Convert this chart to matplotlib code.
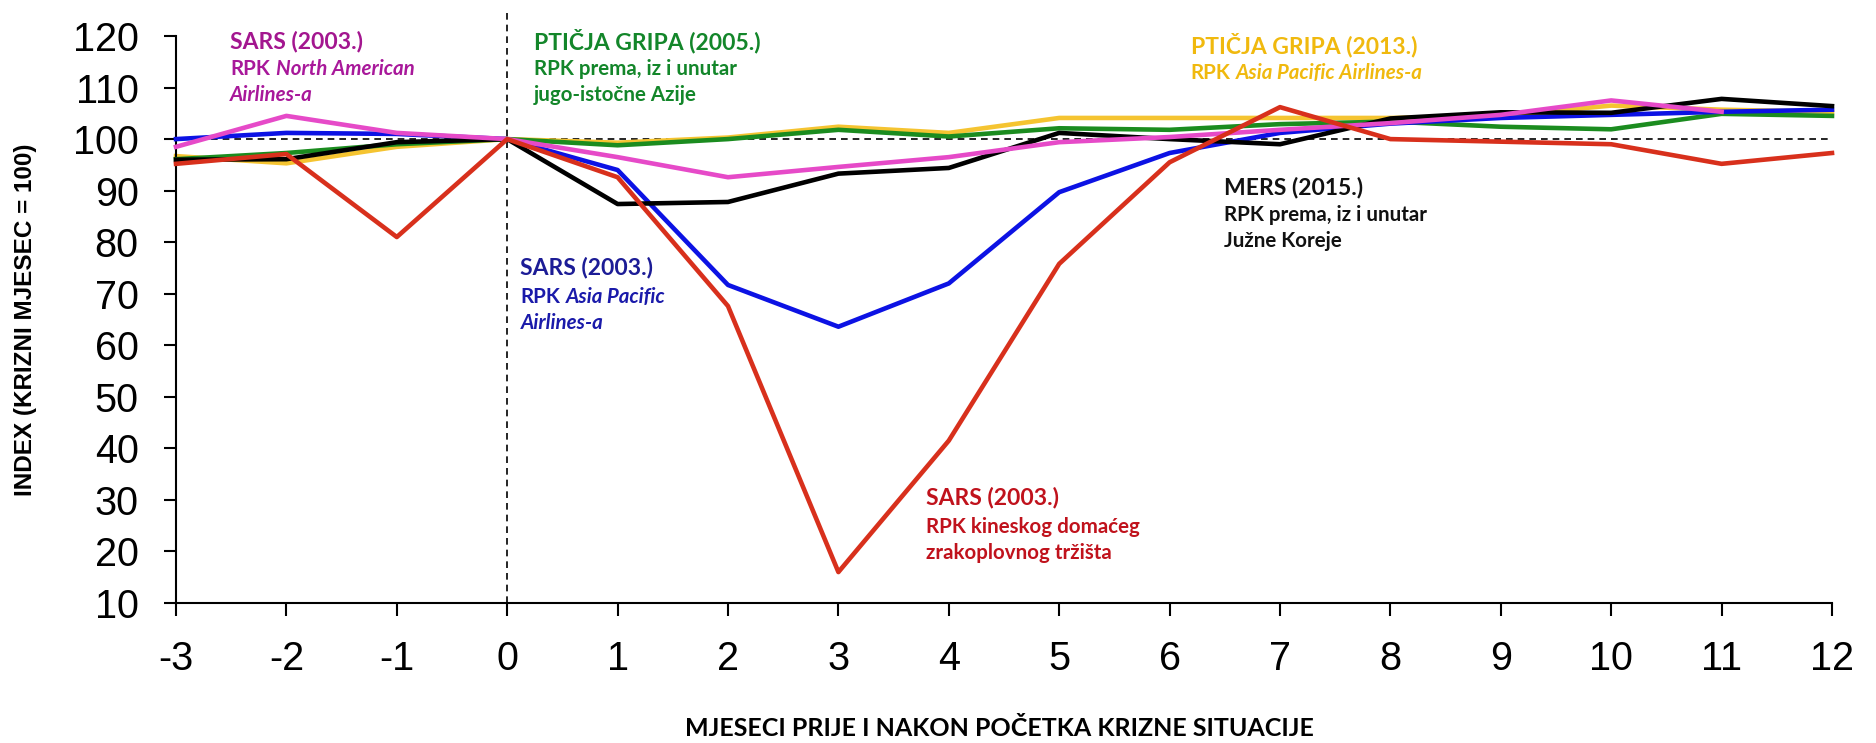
import matplotlib.pyplot as plt

plt.rcParams['font.family'] = ['Liberation Sans', 'DejaVu Sans']

months = list(range(-3, 13))

# SARS 2003 - kinesko domace trziste
red_china = [95.2, 97.1, 81, 100, 92.6, 67.6, 16, 41.5, 75.8, 95.5, 106.2, 100, 99.5, 99, 95.2, 97.3]
# SARS 2003 - Asia Pacific
blue_apac = [100, 101.2, 101, 100, 94, 71.7, 63.6, 72, 89.7, 97.3, 101.2, 103, 104.1, 104.7, 105.3, 105.7]
# MERS 2015 - Juzna Koreja
black_mers = [96, 96.1, 99.4, 100, 87.4, 87.8, 93.3, 94.4, 101.2, 100, 99, 104, 105.2, 105.1, 107.8, 106.4]
# ptcija gripa 2005 - JI Azija
green_flu05 = [96.1, 97.3, 99, 100, 98.8, 100, 101.8, 100.5, 102.1, 101.8, 102.9, 103.4, 102.4, 101.9, 104.9, 104.5]
# ptcija gripa 2013 - Asia Pacific
yellow_flu13 = [96.7, 95.3, 98.5, 100, 99.3, 100.3, 102.4, 101.2, 104.1, 104.1, 104.1, 104.1, 104.5, 106.5, 105.7, 105.3]
# SARS 2003 - North America (ends at month 11)
magenta_na = [98.5, 104.5, 101.2, 100, 96.5, 92.6, 94.6, 96.5, 99.4, 100.4, 101.8, 103.1, 104.7, 107.5, 105.3]

fig = plt.figure(figsize=(18.76, 7.43), dpi=100)
ax = fig.add_axes([176 / 1876, 140 / 743, 1656 / 1876, 567 / 743])

ax.axhline(100, color='k', lw=1.2, ls=(0, (4, 3)), zorder=1)
ax.axvline(0, ymin=0, ymax=(125.4 - 10) / 110, color='k', lw=1.2, ls=(0, (4, 3)), clip_on=False, zorder=1)

lw = 3.3
ax.plot(months, yellow_flu13, color='#f5c431', lw=lw, clip_on=False, zorder=2)
ax.plot(months, green_flu05, color='#1b8c1f', lw=lw, clip_on=False, zorder=3)
ax.plot(months, blue_apac, color='#0c12e4', lw=lw, clip_on=False, zorder=4)
ax.plot(months, black_mers, color='#000000', lw=lw, clip_on=False, zorder=5)
ax.plot(months[:len(magenta_na)], magenta_na, color='#e64ac8', lw=lw, clip_on=False, zorder=6)
ax.plot(months, red_china, color='#d8301c', lw=lw, clip_on=False, zorder=7)

ax.set_xlim(-3, 12)
ax.set_ylim(10, 120)
ax.set_xticks(months)
ax.set_xticklabels([str(m) for m in months])
ax.set_yticks(range(10, 121, 10))

for s in ['top', 'right']:
    ax.spines[s].set_visible(False)
for s in ['left', 'bottom']:
    ax.spines[s].set_linewidth(1.5)
ax.tick_params(axis='both', direction='out', length=9, width=1.5, labelsize=28.5, pad=18)

ax.set_ylabel('INDEX (KRIZNI MJESEC = 100)', fontsize=17.5, fontweight='bold', va='center')
ax.yaxis.set_label_coords(-0.0906, 0.5)
ax.set_xlabel('MJESECI PRIJE I NAKON POČETKA KRIZNE SITUACIJE', fontsize=18, fontweight='bold',
              family='Lato', va='center')
ax.xaxis.set_label_coords(0.497, -0.2205)


def label_block(x, y_title, y_lines, title, lines, tcolor, scolor):
    ax.text(x, y_title, title, color=tcolor, fontsize=16.5, family='Lato', fontweight='bold',
            va='center', ha='left')
    for y, parts in zip(y_lines, lines):
        prev = None
        for txt, italic in parts:
            kw = dict(color=scolor, fontsize=14.8, family='Lato', fontweight='bold',
                      fontstyle='italic' if italic else 'normal', va='center', ha='left')
            if prev is None:
                prev = ax.text(x, y, txt, **kw)
            else:
                prev = ax.annotate(txt, xy=(1, 0.5), xycoords=prev, xytext=(4, 0),
                                   textcoords='offset points', **kw)


label_block(-2.51, 119.0, [113.6, 108.6], 'SARS (2003.)',
            [[('RPK', False), ('North American', True)], [('Airlines-a', True)]],
            '#a3168f', '#a8189a')
label_block(0.24, 119.0, [113.6, 108.6], 'PTIČJA GRIPA (2005.)',
            [[('RPK prema, iz i unutar', False)], [('jugo-istočne Azije', False)]],
            '#13862a', '#13862a')
label_block(6.19, 118.3, [112.8], 'PTIČJA GRIPA (2013.)',
            [[('RPK', False), ('Asia Pacific Airlines-a', True)]],
            '#f0b90e', '#f0b90e')
label_block(6.49, 90.7, [85.3, 80.2], 'MERS (2015.)',
            [[('RPK prema, iz i unutar', False)], [('Južne Koreje', False)]],
            '#111111', '#111111')
label_block(0.12, 75.0, [69.4, 64.3], 'SARS (2003.)',
            [[('RPK', False), ('Asia Pacific', True)], [('Airlines-a', True)]],
            '#1c1c96', '#1a1aaa')
label_block(3.79, 30.4, [24.8, 19.7], 'SARS (2003.)',
            [[('RPK kineskog domaćeg', False)], [('zrakoplovnog tržišta', False)]],
            '#c0121c', '#c0121c')

fig.savefig('out.png', dpi=100)
